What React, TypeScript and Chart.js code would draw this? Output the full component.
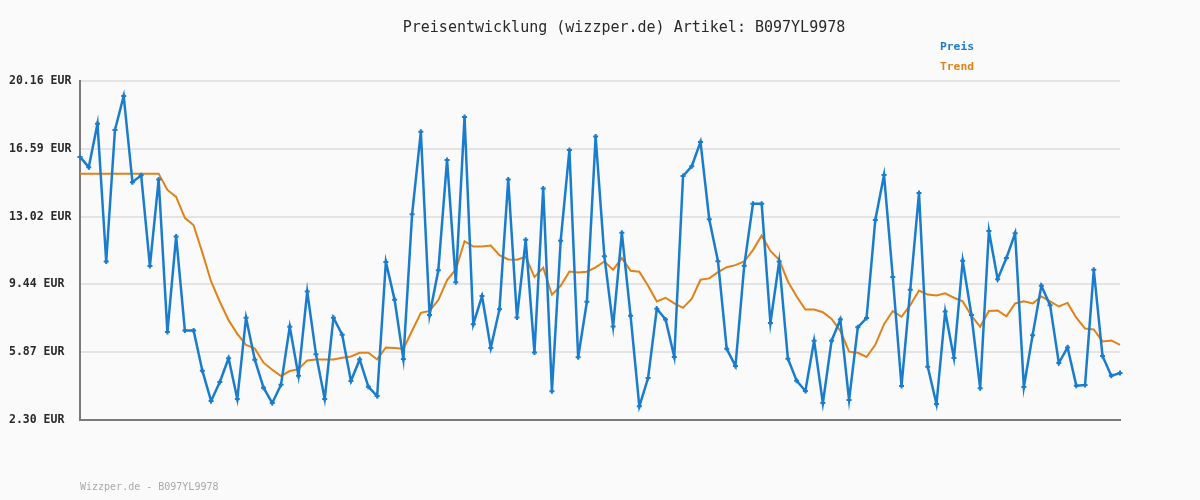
import React, { useEffect, useRef } from "react";
import { Chart, registerables } from "chart.js";

Chart.register(...registerables);

const preis: number[] = [
  16.16, 15.62, 17.91, 10.65, 17.58, 19.37, 14.83, 15.19, 10.41, 14.97,
  6.93, 11.97, 7.02, 7.02, 4.9, 3.3, 4.3, 5.55, 3.41, 7.69,
  5.48, 4.0, 3.19, 4.16, 7.21, 4.63, 9.07, 5.77, 3.41, 7.69,
  6.79, 4.35, 5.49, 4.05, 3.56, 10.63, 8.63, 5.51, 13.14, 17.48,
  7.83, 10.19, 16.0, 9.56, 18.26, 7.35, 8.83, 6.09, 8.14, 14.97,
  7.7, 11.79, 5.86, 14.49, 3.81, 11.74, 16.53, 5.6, 8.53, 17.23,
  10.93, 7.23, 12.16, 7.79, 3.02, 4.51, 8.16, 7.6, 5.62, 15.16,
  15.67, 16.95, 12.88, 10.67, 6.05, 5.14, 10.42, 13.69, 13.69, 7.41,
  10.65, 5.53, 4.37, 3.83, 6.48, 3.19, 6.48, 7.6, 3.35, 7.18,
  7.67, 12.84, 15.21, 9.84, 4.09, 9.16, 14.26, 5.11, 3.14, 8.02,
  5.56, 10.69, 7.83, 3.97, 12.26, 9.72, 10.83, 12.14, 4.04, 6.77,
  9.37, 8.35, 5.3, 6.12, 4.11, 4.14, 10.21, 5.67, 4.63, 4.77,
];

const trend: number[] = [
  15.28, 15.28, 15.28, 15.28, 15.28, 15.28, 15.28, 15.28, 15.28, 15.28,
  14.42, 14.05, 12.95, 12.56, 11.12, 9.6, 8.53, 7.56, 6.84, 6.25,
  6.07, 5.32, 4.95, 4.62, 4.88, 4.98, 5.44, 5.49, 5.49, 5.49,
  5.58, 5.65, 5.84, 5.84, 5.49, 6.12, 6.09, 6.05, 7.0, 7.95,
  8.05, 8.62, 9.67, 10.23, 11.72, 11.44, 11.44, 11.49, 10.98, 10.76,
  10.74, 10.9, 9.83, 10.32, 8.9, 9.37, 10.12, 10.07, 10.11, 10.34,
  10.65, 10.21, 10.83, 10.16, 10.11, 9.37, 8.55, 8.74, 8.44, 8.21,
  8.69, 9.69, 9.76, 10.09, 10.35, 10.46, 10.65, 11.25, 12.02, 11.21,
  10.74, 9.6, 8.81, 8.12, 8.12, 7.98, 7.62, 7.0, 5.9, 5.84,
  5.62, 6.26, 7.35, 8.04, 7.74, 8.35, 9.12, 8.91, 8.86, 8.97,
  8.74, 8.55, 7.79, 7.21, 8.04, 8.07, 7.76, 8.44, 8.55, 8.44,
  8.81, 8.55, 8.28, 8.47, 7.69, 7.12, 7.07, 6.44, 6.49, 6.26,
];

const categories: string[] = preis.map((_, i) => String(i + 1));

const tickValues: number[] = [2.3, 5.87, 9.44, 13.02, 16.59, 20.16];
const tickLabels: string[] = ["2.30 EUR", "5.87 EUR", "9.44 EUR", "13.02 EUR", "16.59 EUR", "20.16 EUR"];

const titleText = "Preisentwicklung (wizzper.de) Artikel: B097YL9978";
const footerText = "Wizzper.de - B097YL9978";
const seriesNames: string[] = ["Preis", "Trend"];

const BLUE = "#1a7ccc";
const ORANGE = "#e0821a";
const MONO = "'DejaVu Sans Mono', 'Liberation Mono', monospace";

const decorPlugin = {
  id: "decor",
  beforeDraw(chart: any) {
    const ctx = chart.ctx;
    ctx.save();
    ctx.fillStyle = "#fafafa";
    ctx.fillRect(0, 0, chart.width, chart.height);
    ctx.restore();
  },
  afterDraw(chart: any) {
    const ctx = chart.ctx;
    ctx.save();
    ctx.textBaseline = "middle";
    ctx.textAlign = "center";
    ctx.fillStyle = "#2a2a2a";
    ctx.font = `15px ${MONO}`;
    ctx.fillText(titleText, 624, 28);

    ctx.textAlign = "left";
    ctx.font = `bold 11.3px ${MONO}`;
    ctx.fillStyle = BLUE;
    ctx.fillText(seriesNames[0], 940, 47);
    ctx.fillStyle = ORANGE;
    ctx.fillText(seriesNames[1], 940, 67);

    ctx.font = `10px ${MONO}`;
    ctx.fillStyle = "#aaaaaa";
    ctx.fillText(footerText, 80, 487);
    ctx.restore();
  },
};

export default function App() {
  const canvasRef = useRef<HTMLCanvasElement | null>(null);

  useEffect(() => {
    document.body.style.margin = "0";
    const canvas = canvasRef.current;
    if (!canvas) return;
    const chart = new Chart(canvas, {
      type: "line",
      data: {
        labels: categories,
        datasets: [
          {
            label: seriesNames[0],
            data: preis,
            borderColor: BLUE,
            backgroundColor: BLUE,
            borderWidth: 2.5,
            pointStyle: "cross",
            pointRadius: 2.5,
            pointBorderWidth: 2,
            pointBorderColor: BLUE,
            tension: 0,
            order: 1,
          },
          {
            label: seriesNames[1],
            data: trend,
            borderColor: ORANGE,
            backgroundColor: ORANGE,
            borderWidth: 2,
            pointRadius: 0,
            tension: 0,
            order: 2,
          },
        ],
      },
      options: {
        responsive: false,
        animation: false,
        layout: { padding: { left: 9, right: 80, top: 81, bottom: 80 } },
        plugins: {
          legend: { display: false },
          title: { display: false },
          tooltip: { enabled: false },
        },
        scales: {
          x: {
            type: "category",
            offset: false,
            ticks: { display: false },
            grid: { display: false, drawTicks: false },
            border: { display: true, color: "#7a7a7a", width: 2 },
            afterFit(scale: any) {
              scale.height = 0;
            },
          },
          y: {
            min: 2.3,
            max: 20.16,
            afterBuildTicks(scale: any) {
              scale.ticks = tickValues.map((v) => ({ value: v }));
            },
            afterFit(scale: any) {
              scale.width = 71;
            },
            ticks: {
              padding: 6,
              crossAlign: "far",
              color: "#2a2a2a",
              font: { family: MONO, size: 11.5, weight: "bold" },
              callback: (value: any) => {
                const i = tickValues.findIndex((t) => Math.abs(t - Number(value)) < 0.001);
                return i >= 0 ? tickLabels[i] : "";
              },
            },
            grid: { color: "#e4e4e4", lineWidth: 2, drawTicks: false },
            border: { display: true, color: "#7a7a7a", width: 2 },
          },
        },
      },
      plugins: [decorPlugin],
    } as any);
    return () => chart.destroy();
  }, []);

  return (
    <div style={{ width: 1200, height: 500 }}>
      <canvas ref={canvasRef} width={1200} height={500} style={{ display: "block" }} />
    </div>
  );
}
